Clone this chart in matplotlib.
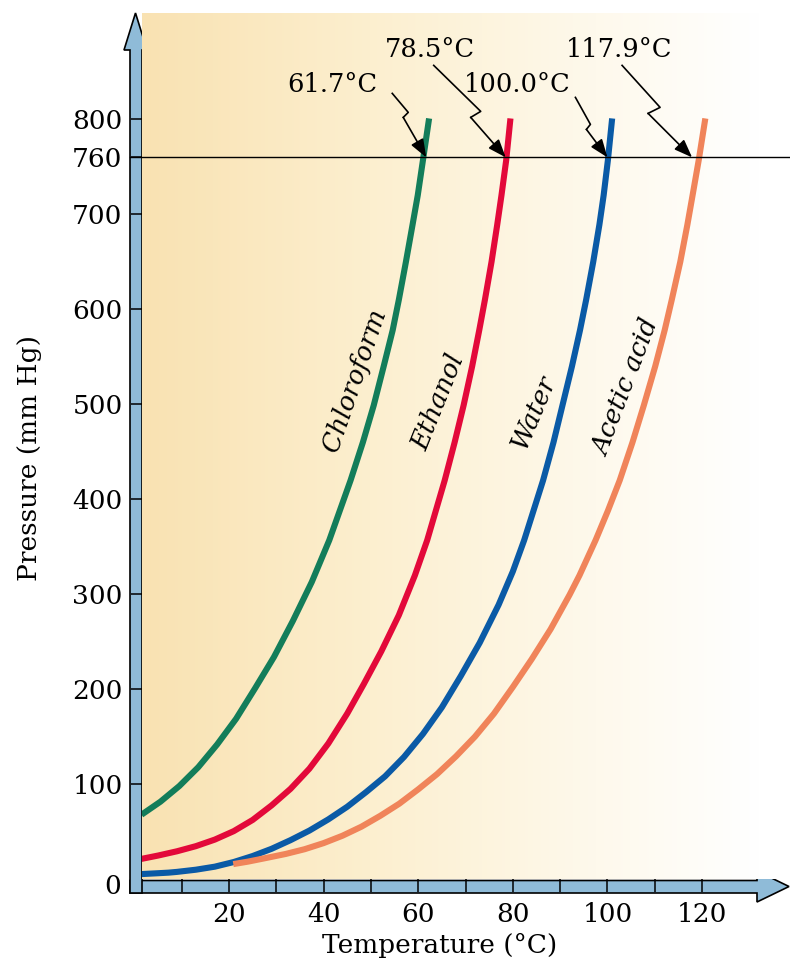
import numpy as np
import matplotlib
matplotlib.use("Agg")
import matplotlib.pyplot as plt
from matplotlib.patches import Polygon
from matplotlib.colors import LinearSegmentedColormap
from matplotlib.transforms import IdentityTransform

plt.rcParams["font.family"] = ["DejaVu Serif"]

# vapour pressure curves (temperature in C, pressure in mm Hg)
chloroform_t = [1.5, 5.5, 9.5, 13.5, 17.5, 21.5, 25.5, 29.5, 33.5, 37.5, 41.2, 45.7, 48.3,
                50.6, 52.7, 54.6, 55.9, 57.4, 58.8, 59.9, 61.0, 62.3]
chloroform_p = [68, 81.7, 98.2, 118, 142, 169, 201, 234, 272, 313, 357, 420, 460,
                499, 540, 578, 610, 650, 689, 720, 757, 801]

ethanol_t = [1.5, 5, 9, 13, 17, 21, 25, 29, 33, 37, 41, 45, 48.5, 52.2, 55.9, 59.3, 61.9,
             65.6, 67.7, 69.6, 71.4, 72.9, 74.1, 75.5, 76.7, 77.6, 78.6, 79.5]
ethanol_p = [21.5, 25, 29.5, 34.9, 41.8, 50.7, 62.5, 77.8, 95.2, 116.5, 143, 174.5, 205.6,
             240, 278, 320, 357, 420, 460, 499, 540, 578, 610, 650, 689, 720, 757, 801]

water_t = [1.5, 5, 7.2, 9, 13, 17, 21, 25, 29, 33, 37, 41, 45, 49, 53, 57, 61, 65, 69,
           73, 77, 80, 82.4, 86.4, 88.6, 90.5, 92.5, 94.2, 95.5, 97.0, 98.3, 99.2, 100.1, 101.0]
water_p = [5.5, 6.4, 7.0, 7.8, 10.1, 13.3, 18.2, 24.5, 32.1, 41.2, 51.3, 63.1, 76.4, 91.9,
           108.4, 128.8, 153, 181, 214, 249, 289, 324, 357, 420, 460, 499, 540, 578, 610,
           650, 689, 720, 757, 801]

acetic_t = [20.9, 24, 28, 32, 36, 40, 44, 48, 52, 56, 60, 64, 68, 72, 76, 80, 84, 88, 92,
            94.1, 97.5, 100.1, 102.6, 105.3, 107.7, 110.1, 112.1, 113.6, 115.4, 116.9, 118.0,
            119.3, 120.7]
acetic_p = [16, 18.6, 22.6, 26.7, 31.7, 38.1, 45.9, 55.4, 66.9, 79.6, 94.7, 110.8, 129.5,
            150.2, 174.3, 202.4, 231.8, 263.4, 299.5, 320, 357, 388, 420, 460, 499, 540, 578,
            610, 650, 689, 720, 757, 801]

names = ["Chloroform", "Ethanol", "Water", "Acetic acid"]
boiling = [61.7, 78.5, 100.0, 117.9]
colors = ["#137d5a", "#e3093a", "#0a5aa6", "#f0845a"]

fig = plt.figure(figsize=(7.9, 9.67), dpi=100)
W, H = 790, 967
ax = fig.add_axes([141.5 / W, 1 - 879.3 / H, 648.5 / W, 866.3 / H])
ax.set_xlim(1.5, 138.6)
ax.set_ylim(0, 912)

# background gradient
bg = LinearSegmentedColormap.from_list(
    "bg", [(0, "#f9e2b2"), (0.35, "#fcefcf"), (0.7, "#fef9ec"), (0.95, "#ffffff"), (1, "#ffffff")])
ax.imshow(np.linspace(0, 1, 256)[None, :], cmap=bg, aspect="auto",
          extent=(0, 1, 0, 1), transform=ax.transAxes, zorder=0)

curves = [(chloroform_t, chloroform_p), (ethanol_t, ethanol_p),
          (water_t, water_p), (acetic_t, acetic_p)]
for (t, p), c in zip(curves, colors):
    ax.plot(t, p, color=c, lw=4.4, solid_capstyle="butt", solid_joinstyle="round", zorder=2)

ax.axhline(760, xmin=-0.018, color="black", lw=1.0, clip_on=False, zorder=2.2)

# axis bands drawn as arrows (figure pixel coords)
def px(pts):
    return [(x / W, 1 - y / H) for x, y in pts]

vband = px([(130, 893), (130, 50), (124, 50), (135.5, 13), (147, 50), (142, 50), (142, 893)])
hband = px([(130, 880.5), (757, 880.5), (757, 871), (789, 886.5), (757, 902), (757, 893), (130, 893)])
for pts in (hband, vband):
    fig.patches.append(Polygon(pts, closed=True, transform=fig.transFigure,
                               facecolor="#8fbbd8", edgecolor="black", lw=1.2, zorder=0.5))
ax.set_zorder(1)
ax.patch.set_alpha(0)

for s in ax.spines.values():
    s.set_visible(False)

yticks = [100, 200, 300, 400, 500, 600, 700, 760, 800]
ax.set_yticks(yticks)
ax.set_yticklabels([str(v) for v in yticks])
xticks = [20, 40, 60, 80, 100, 120]
ax.set_xticks(xticks)
ax.set_xticklabels([str(v) for v in xticks])
ax.set_xticks([10, 30, 50, 70, 90, 110], minor=True)
ax.tick_params(axis="y", direction="out", length=8.1, width=1.1, pad=5.5, labelsize=19)
ax.tick_params(axis="x", which="both", direction="out", length=9.4, width=1.1, pad=7, labelsize=19)
ax.tick_params(axis="x", which="minor", labelbottom=False)
fig.text(121 / W, 1 - 886 / H, "0", ha="right", va="center", fontsize=19)

fig.text(30 / W, 1 - 458 / H, "Pressure (mm Hg)", rotation=90, ha="center", va="center", fontsize=19)
fig.text(440 / W, 1 - 945 / H, "Temperature (\u00b0C)", ha="center", va="center", fontsize=19)

# curve names
label_pos = [(46.6, 525), (64.2, 502), (84.3, 492), (104.0, 518)]
label_rot = [71, 68, 67, 69]
for name, (lx, ly), r in zip(names, label_pos, label_rot):
    ax.text(lx, ly, name, rotation=r, style="italic", fontsize=18.5,
            ha="center", va="center", rotation_mode="anchor", zorder=3)

# boiling point callouts: text position (data) and zigzag offsets in pixels from the tip
text_pos = [(41.8, 837), (62.5, 874), (80.9, 837), (102.4, 874)]
zig = [[(-34, 64), (-18, 45), (-23, 40)],
       [(-72, 92), (-25, 46), (-35, 40)],
       [(-32, 60), (-17, 33), (-21, 28)],
       [(-70, 92), (-32, 50), (-44, 44)]]
fig.canvas.draw()
for bp, (tx, ty), z in zip(boiling, text_pos, zig):
    ax.text(tx, ty, f"{bp:.1f}\u00b0C", fontsize=18.5, ha="center", va="center", zorder=3)
    tip = ax.transData.transform((bp, 760))
    xs = [tip[0] + dx for dx, dy in z]
    ys = [tip[1] + dy for dx, dy in z]
    ax.add_line(plt.Line2D(xs, ys, color="black", lw=1.2, transform=IdentityTransform(),
                           clip_on=False, zorder=3))
    ax.annotate("", xy=(bp, 760), xytext=z[-1], textcoords="offset pixels",
                arrowprops=dict(arrowstyle="-|>,head_length=1.0,head_width=0.38",
                                mutation_scale=11, color="black", lw=1.2,
                                shrinkA=0, shrinkB=0), zorder=3)

fig.savefig("out.png", dpi=100)
